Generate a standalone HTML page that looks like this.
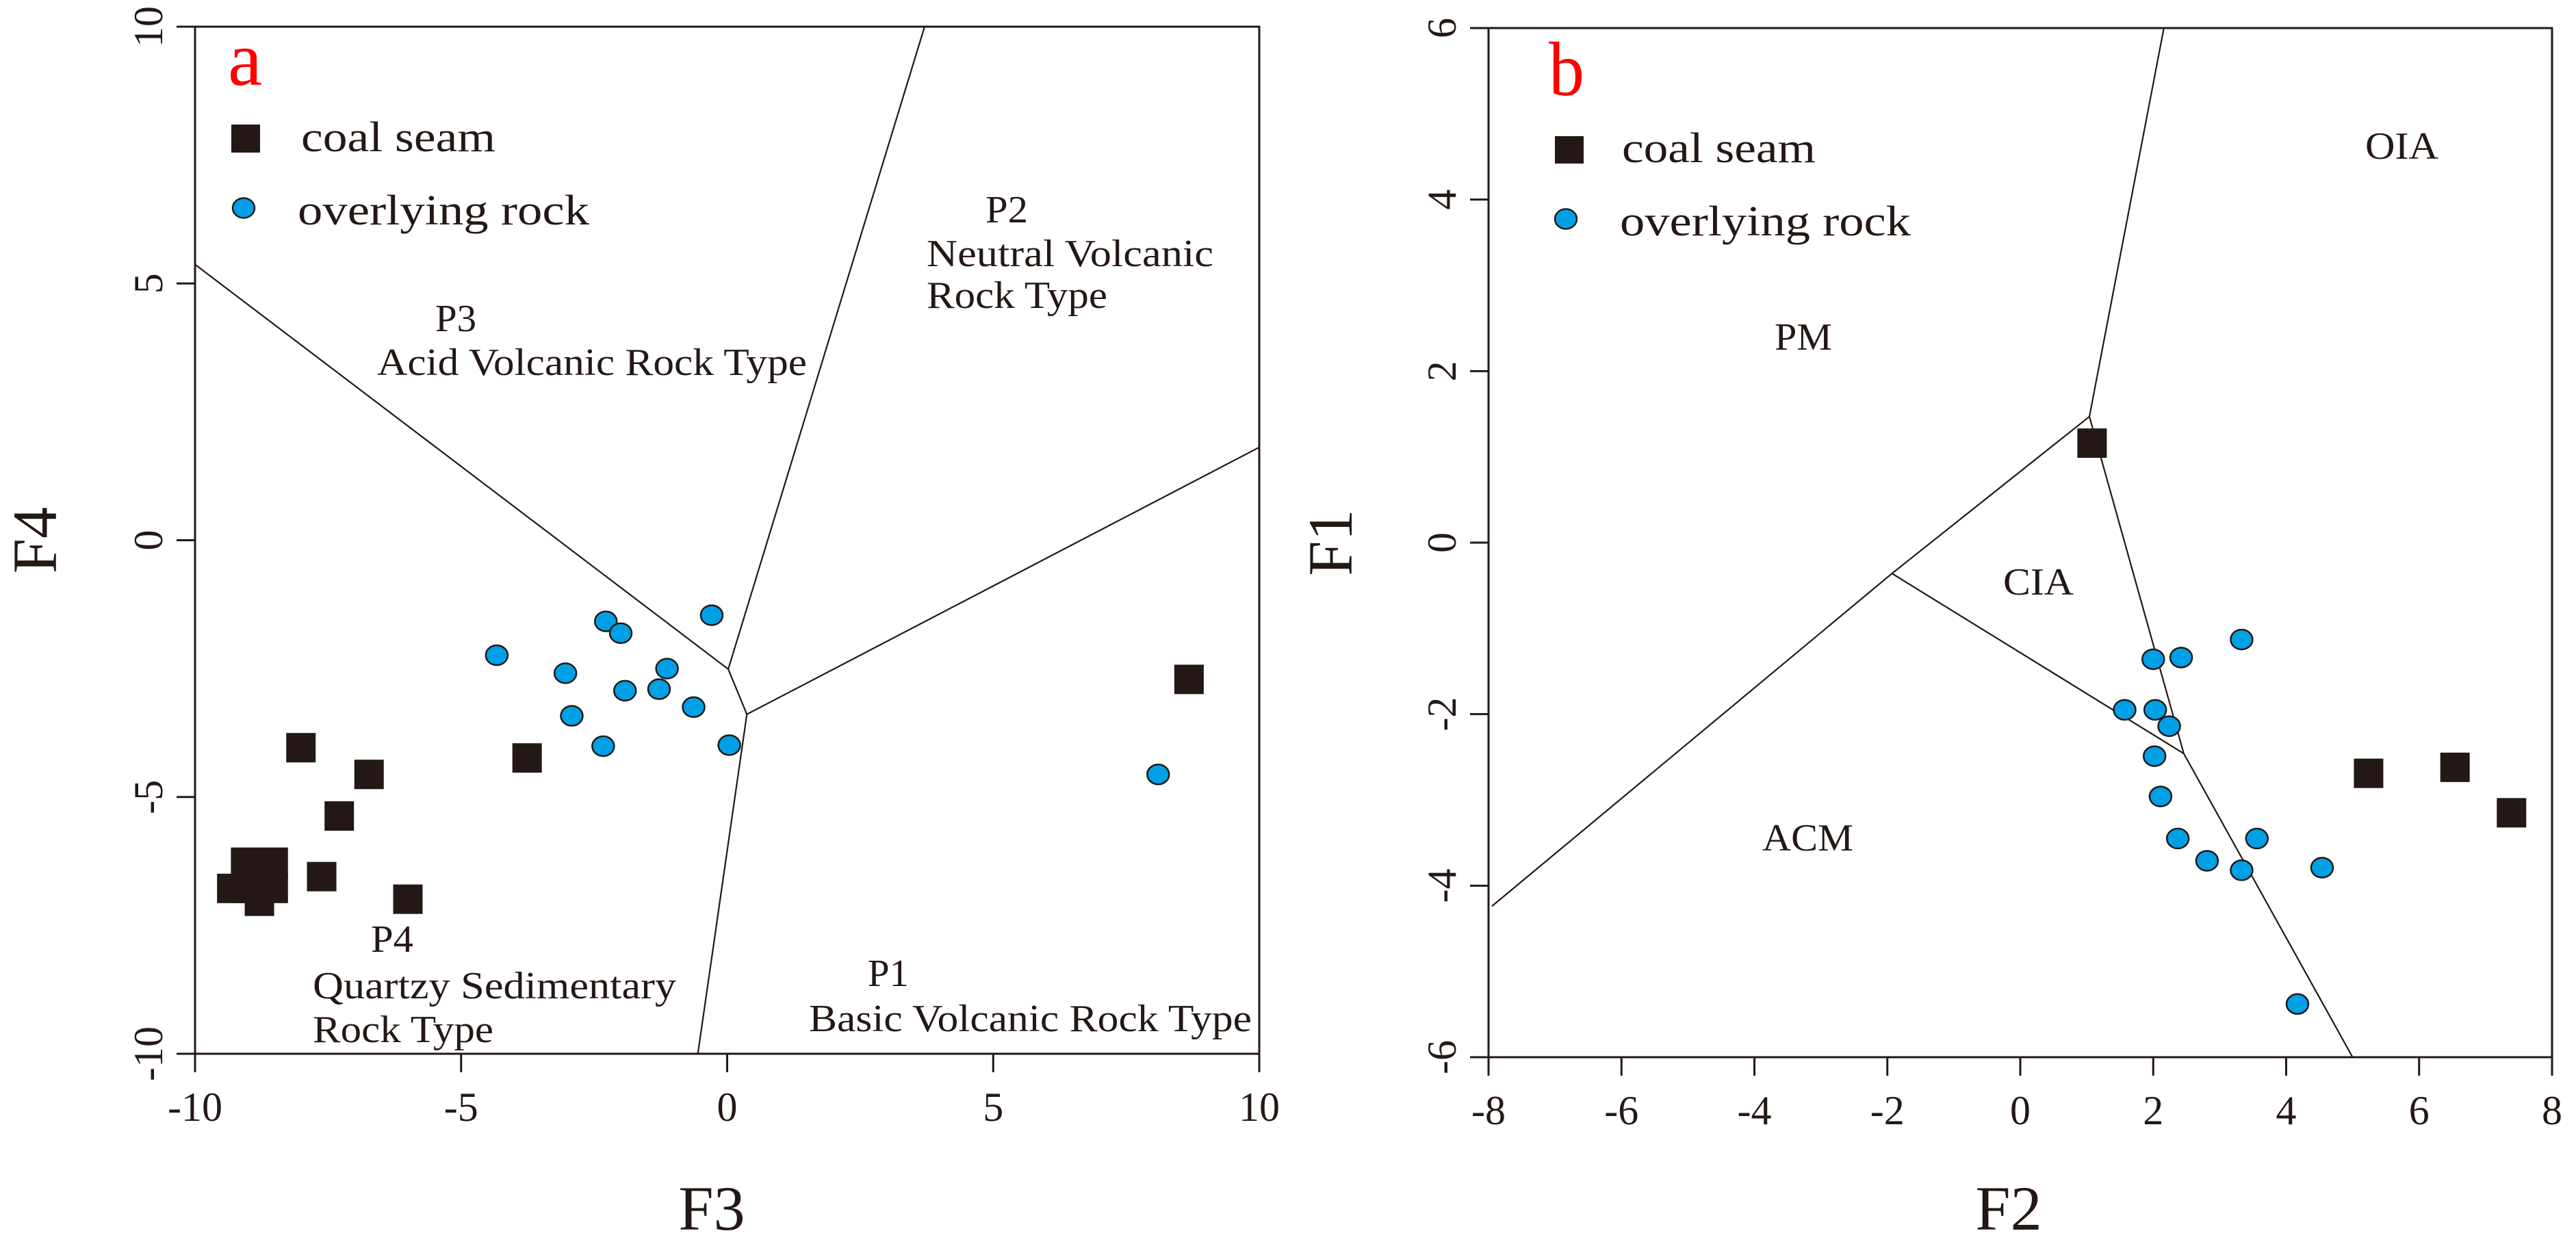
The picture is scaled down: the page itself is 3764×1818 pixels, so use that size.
<!DOCTYPE html>
<html><head><meta charset="utf-8"><style>
html,body{margin:0;padding:0;background:#fff;}
svg{display:block;font-family:"Liberation Serif",serif;}
</style></head><body>
<svg id="chart" width="3764" height="1818" viewBox="0 0 3764 1818" xmlns="http://www.w3.org/2000/svg">
<rect width="3764" height="1818" fill="#fff"/>
<g id="pa"></g>
<g id="pb"></g>
</svg>
<script>
// ---- Panel a data (F3 vs F4) ----
const aXTicks = [-10, -5, 0, 5, 10];
const aYTicks = [-10, -5, 0, 5, 10];
const aCoalX = [8.68, -3.76, -8.01, -6.73, -7.29, -7.62, -6.0, -9.31, -8.79, -9.05, -8.53, -9.05, -8.53];
const aCoalY = [-2.71, -4.24, -4.04, -4.56, -5.37, -6.55, -6.99, -6.78, -7.03, -6.27, -6.27, -6.78, -6.78];
const aRockX = [-4.33, -2.28, -2.0, -0.29, -3.04, -1.13, -1.92, -1.28, -0.63, -2.92, -2.33, 0.04, 8.10];
const aRockY = [-2.24, -1.58, -1.81, -1.46, -2.59, -2.50, -2.93, -2.90, -3.25, -3.42, -4.01, -3.99, -4.56];
const aBoundX = [[-10, 0.02, 0.37, -0.55], [0.02, 3.71], [0.37, 10]];
const aBoundY = [[5.37, -2.51, -3.39, -10], [-2.51, 10], [-3.39, 1.81]];

// ---- Panel b data (F2 vs F1) ----
const bXTicks = [-8, -6, -4, -2, 0, 2, 4, 6, 8];
const bYTicks = [-6, -4, -2, 0, 2, 4, 6];
const bCoalX = [1.08, 5.24, 6.54, 7.39];
const bCoalY = [1.16, -2.69, -2.62, -3.15];
const bRockX = [3.33, 2.00, 2.42, 1.57, 2.03, 2.24, 2.02, 2.11, 2.37, 3.56, 2.81, 3.33, 4.54, 4.17];
const bRockY = [-1.13, -1.36, -1.34, -1.95, -1.95, -2.14, -2.49, -2.96, -3.45, -3.45, -3.71, -3.82, -3.79, -5.38];
const bBoundX = [[-7.95, -1.93, 1.04, 2.16], [1.04, 2.46, 5.0], [-1.93, 2.46]];
const bBoundY = [[-4.24, -0.36, 1.47, 6], [1.47, -2.46, -6], [-0.36, -2.46]];

const NS = "http://www.w3.org/2000/svg";
function mk(parent, tag, attrs, text) {
  const e = document.createElementNS(NS, tag);
  for (const k in attrs) e.setAttribute(k, attrs[k]);
  if (text !== undefined) e.textContent = text;
  parent.appendChild(e);
  return e;
}
function scale(d0, d1, p0, p1) { return v => p0 + (v - d0) / (d1 - d0) * (p1 - p0); }

function drawPanel(g, cfg) {
  const sx = scale(cfg.xd[0], cfg.xd[1], cfg.L, cfg.R);
  const sy = scale(cfg.yd[0], cfg.yd[1], cfg.B, cfg.T);
  // boundaries
  cfg.bx.forEach((xs, i) => {
    const pts = xs.map((x, j) => sx(x).toFixed(1) + "," + sy(cfg.by[i][j]).toFixed(1)).join(" ");
    const l = mk(g, "polyline", {points: pts, fill: "none", stroke: "#231815", "stroke-width": 2.2});
    
    
  });
  // frame
  const fr = mk(g, "rect", {x: cfg.L, y: cfg.T, width: cfg.R - cfg.L, height: cfg.B - cfg.T, fill: "none", stroke: "#231815", "stroke-width": 3});
  
  
  // x ticks
  cfg.xt.forEach(t => {
    const x = sx(t);
    const tk = mk(g, "line", {x1: x, x2: x, y1: cfg.B, y2: cfg.B + 27, stroke: "#231815", "stroke-width": 3});
    
    
    const lb = mk(g, "text", {x: x, y: cfg.B + 98, "font-size": 60, "text-anchor": "middle", fill: "#231815"}, String(t));
    
    
  });
  cfg.yt.forEach(t => {
    const y = sy(t);
    const tk = mk(g, "line", {x1: cfg.L - 27, x2: cfg.L, y1: y, y2: y, stroke: "#231815", "stroke-width": 3});
    
    
    const tx = cfg.L - 48;
    const lb = mk(g, "text", {x: tx, y: y, "font-size": 60, "text-anchor": "middle", fill: "#231815", transform: "rotate(-90 " + tx + " " + y + ")"}, String(t));
    
    
  });
  // axis titles
  const xt = mk(g, "text", {x: cfg.xtx, y: 1797, "font-size": 92, "text-anchor": "middle", fill: "#231815"}, cfg.xTitle);
  
  
  const ytx = cfg.ytx, yty = (cfg.T + cfg.B) / 2;
  const yt = mk(g, "text", {x: ytx, y: yty, "font-size": 92, "text-anchor": "middle", fill: "#231815", transform: "rotate(-90 " + ytx + " " + yty + ")"}, cfg.yTitle);
  
  
  // rocks
  cfg.rx.forEach((x, i) => {
    const c = mk(g, "ellipse", {cx: sx(x), cy: sy(cfg.ry[i]), rx: 16, ry: 14.5, fill: "#00a0e6", stroke: "#231815", "stroke-width": 2.5});
    
    
  });
  // coal
  cfg.cx.forEach((x, i) => {
    const s = mk(g, "rect", {x: sx(x) - 21.5, y: sy(cfg.cy[i]) - 21.5, width: 43, height: 43, fill: "#231815"});
    
    
  });
}

const pa = document.getElementById("pa");
const pb = document.getElementById("pb");
drawPanel(pa, {xd: [-10, 10], yd: [-10, 10], L: 285, R: 1840, T: 39, B: 1540, xt: aXTicks, yt: aYTicks,
  bx: aBoundX, by: aBoundY, rx: aRockX, ry: aRockY, cx: aCoalX, cy: aCoalY, xTitle: "F3", yTitle: "F4", xtx: 1040, ytx: 82});
drawPanel(pb, {xd: [-8, 8], yd: [-6, 6], L: 2175, R: 3729, T: 41, B: 1545, xt: bXTicks, yt: bYTicks,
  bx: bBoundX, by: bBoundY, rx: bRockX, ry: bRockY, cx: bCoalX, cy: bCoalY, xTitle: "F2", yTitle: "F1", xtx: 2935, ytx: 1975});

function label(g, x, y, size, w, txt, name, color) {
  const t = mk(g, "text", {x: x, y: y, "font-size": size, fill: color || "#231815", textLength: w, lengthAdjust: "spacingAndGlyphs"}, txt);
  
  
}
// panel a labels
label(pa, 333, 124, 112, 50, "a", "panel-letter", "#ff0000");
label(pa, 440, 221, 62, 284, "coal seam", "legend-coal-seam-label");
label(pa, 435, 328, 62, 426, "overlying rock", "legend-overlying-rock-label");
let lg = mk(pa, "rect", {x: 338, y: 182, width: 42, height: 41, fill: "#231815"});
 
lg = mk(pa, "ellipse", {cx: 356, cy: 304, rx: 16, ry: 14.5, fill: "#00a0e6", stroke: "#231815", "stroke-width": 2.5});
 
label(pa, 1440, 325, 56, 62, "P2", "region-p2-label");
label(pa, 1354, 389, 56, 419, "Neutral Volcanic", "region-p2-name");
label(pa, 1354, 450, 56, 264, "Rock Type", "region-p2-name-2");
label(pa, 636, 484, 56, 60, "P3", "region-p3-label");
label(pa, 551, 548, 56, 628, "Acid Volcanic Rock Type", "region-p3-name");
label(pa, 542, 1391, 56, 62, "P4", "region-p4-label");
label(pa, 457, 1459, 56, 531, "Quartzy Sedimentary", "region-p4-name");
label(pa, 457, 1523, 56, 264, "Rock Type", "region-p4-name-2");
label(pa, 1268, 1441, 56, 60, "P1", "region-p1-label");
label(pa, 1182, 1507, 56, 647, "Basic Volcanic Rock Type", "region-p1-name");
// panel b labels
label(pb, 2263, 139, 112, 52, "b", "panel-letter", "#ff0000");
label(pb, 2370, 237, 62, 283, "coal seam", "legend-coal-seam-label");
label(pb, 2367, 344, 62, 425, "overlying rock", "legend-overlying-rock-label");
lg = mk(pb, "rect", {x: 2272, y: 199, width: 42, height: 40, fill: "#231815"});
 
lg = mk(pb, "ellipse", {cx: 2288, cy: 320, rx: 16, ry: 14.5, fill: "#00a0e6", stroke: "#231815", "stroke-width": 2.5});
 
label(pb, 3456, 232, 56, 107, "OIA", "region-oia-label");
label(pb, 2593, 511, 56, 84, "PM", "region-pm-label");
label(pb, 2927, 869, 56, 103, "CIA", "region-cia-label");
label(pb, 2575, 1243, 56, 133, "ACM", "region-acm-label");
</script>
</body></html>
